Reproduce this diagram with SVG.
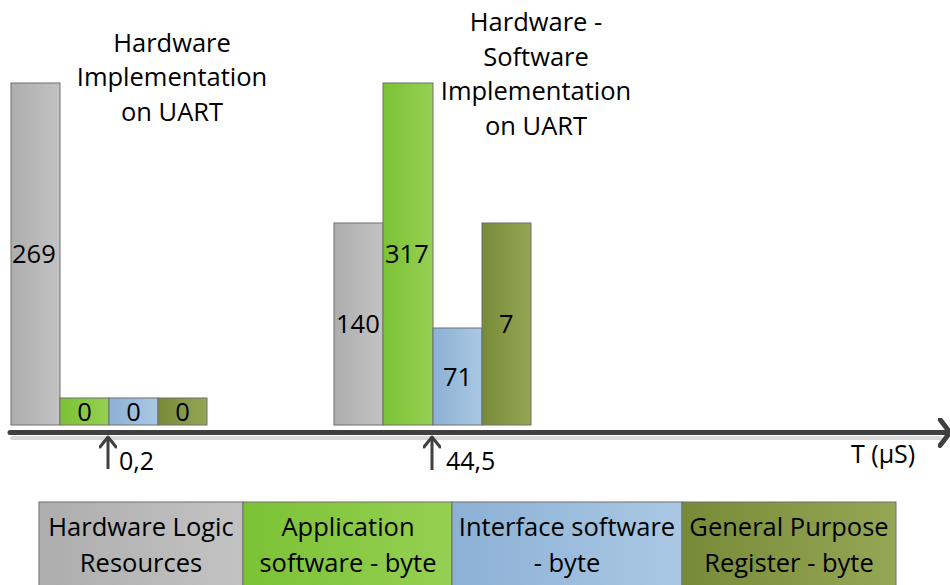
<svg xmlns="http://www.w3.org/2000/svg" width="950" height="585" viewBox="0 0 950 585">
<defs>
<linearGradient id="gGray" x1="0" y1="0" x2="1" y2="0"><stop offset="0" stop-color="#adadad"/><stop offset="1" stop-color="#c3c3c3"/></linearGradient>
<linearGradient id="gGreen" x1="0" y1="0" x2="1" y2="0"><stop offset="0" stop-color="#7bc235"/><stop offset="1" stop-color="#95d052"/></linearGradient>
<linearGradient id="gBlue" x1="0" y1="0" x2="1" y2="0"><stop offset="0" stop-color="#8cb1d5"/><stop offset="1" stop-color="#aac8e4"/></linearGradient>
<linearGradient id="gOlive" x1="0" y1="0" x2="1" y2="0"><stop offset="0" stop-color="#778a38"/><stop offset="1" stop-color="#95a754"/></linearGradient>
<marker id="open" viewBox="0 0 16 18" refX="12" refY="9" markerWidth="16" markerHeight="18" markerUnits="userSpaceOnUse" orient="auto">
<path d="M2,1 L12,9 L2,17" fill="none" stroke="#404040" stroke-width="3" stroke-linecap="round" stroke-linejoin="round"/>
</marker>
<marker id="openBig" viewBox="0 0 16 30" refX="12" refY="15" markerWidth="16" markerHeight="30" markerUnits="userSpaceOnUse" orient="auto">
<path d="M2,2 L12,15 L2,28" fill="none" stroke="#404040" stroke-width="5" stroke-linecap="round" stroke-linejoin="round"/>
</marker>
</defs>
<style>
text{font-family:"Open Sans","Liberation Sans",sans-serif;fill:#000;}
.t{font-size:25.5px;text-anchor:middle;}
.v{font-size:25.5px;}
.vc{font-size:25.5px;text-anchor:middle;}
.a{font-size:25px;}
.bar{stroke:#6e6e6e;stroke-width:1;}
.ax{stroke:#404040;fill:none;}
</style>
<rect width="950" height="585" fill="#fff"/>

<g id="title1">
<text class="t" x="172" y="52">Hardware</text>
<text class="t" x="172" y="86">Implementation</text>
<text class="t" x="172" y="121">on UART</text>
</g>
<g id="title2">
<text class="t" x="536" y="31">Hardware -</text>
<text class="t" x="536" y="66">Software</text>
<text class="t" x="536" y="100">Implementation</text>
<text class="t" x="536" y="135">on UART</text>
</g>

<g id="group1">
<rect class="bar" x="11" y="83" width="49" height="342" fill="url(#gGray)"/>
<text class="v" x="12" y="263">269</text>
<rect class="bar" x="60" y="398" width="49" height="27" fill="url(#gGreen)"/>
<text class="vc" x="84.5" y="421">0</text>
<rect class="bar" x="109" y="398" width="49" height="27" fill="url(#gBlue)"/>
<text class="vc" x="133.5" y="421">0</text>
<rect class="bar" x="158" y="398" width="49" height="27" fill="url(#gOlive)"/>
<text class="vc" x="182.5" y="421">0</text>
</g>

<g id="group2">
<rect class="bar" x="334" y="223" width="49" height="202" fill="url(#gGray)"/>
<text class="v" x="336" y="333">140</text>
<rect class="bar" x="383" y="83" width="50" height="342" fill="url(#gGreen)"/>
<text class="v" x="385" y="263">317</text>
<rect class="bar" x="433" y="328" width="49" height="97" fill="url(#gBlue)"/>
<text class="v" x="443" y="386">71</text>
<rect class="bar" x="482" y="223" width="49" height="202" fill="url(#gOlive)"/>
<text class="v" x="499" y="333">7</text>
</g>

<g id="connectors">
<line x1="12" y1="438" x2="940" y2="438" stroke="#d9d9d9" stroke-width="4" stroke-linecap="round"/>
<line class="ax" x1="10" y1="432.5" x2="950" y2="432.5" stroke-width="5" stroke-linecap="round" marker-end="url(#openBig)"/>
<line class="ax" x1="108" y1="469" x2="108" y2="437" stroke-width="3" marker-end="url(#open)"/>
<line class="ax" x1="432" y1="470" x2="432" y2="437" stroke-width="3" marker-end="url(#open)"/>
</g>

<g id="axisLabels">
<text class="a" x="119" y="470">0,2</text>
<text class="a" x="446" y="470">44,5</text>
<text class="a" x="851" y="463">T (µS)</text>
</g>

<g id="legend">
<rect class="bar" x="39" y="502" width="204" height="90" fill="url(#gGray)"/>
<text class="t" x="141" y="536">Hardware Logic</text>
<text class="t" x="141" y="572">Resources</text>
<rect class="bar" x="243" y="502" width="209" height="90" fill="url(#gGreen)"/>
<text class="t" x="348" y="536">Application</text>
<text class="t" x="348" y="572">software - byte</text>
<rect class="bar" x="452" y="502" width="230" height="90" fill="url(#gBlue)"/>
<text class="t" x="567" y="536">Interface software</text>
<text class="t" x="567" y="572">- byte</text>
<rect class="bar" x="682" y="502" width="214" height="90" fill="url(#gOlive)"/>
<text class="t" x="789" y="536">General Purpose</text>
<text class="t" x="789" y="572">Register - byte</text>
</g>
</svg>
